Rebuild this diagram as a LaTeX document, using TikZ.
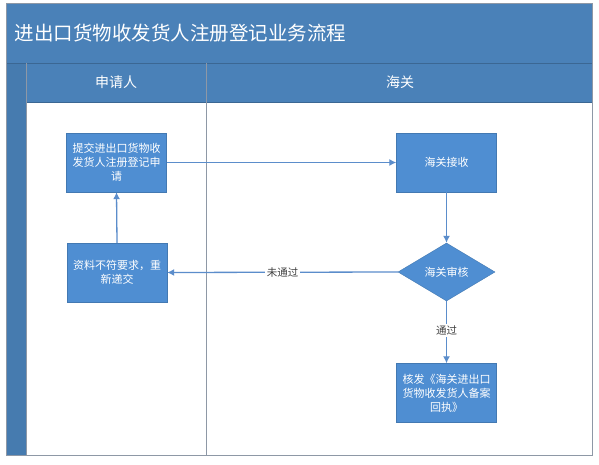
\documentclass[tikz,border=0pt]{standalone}
\usepackage{fontspec}
\setmainfont{Noto Sans CJK SC}
\usetikzlibrary{arrows.meta,shapes.geometric}
\definecolor{band}{HTML}{4A81B8}
\definecolor{boxc}{HTML}{4F8ED2}
\definecolor{linec}{HTML}{5B8DCB}
\definecolor{framec}{HTML}{8E98A6}
\tikzset{
  stepbox/.style={draw=boxc!85!black, line width=0.4pt, fill=boxc, text=white, minimum width=100pt, minimum height=59pt, inner sep=3pt, align=center, font=\fontsize{11}{14}\selectfont},
  decbox/.style={diamond, draw=boxc!85!black, line width=0.4pt, fill=boxc, text=white, minimum width=97pt, minimum height=58pt, inner sep=0pt, aspect=1.67, align=center, font=\fontsize{11}{13}\selectfont},
  flow/.style={draw=linec, line width=1.3pt, -{Latex[length=7pt,width=7pt]}},
  lbl/.style={fill=white, text=black!75, font=\fontsize{10.5}{12}\selectfont, inner sep=1.5pt},
  hdr/.style={text=white, font=\fontsize{14}{16}\selectfont}
}
\begin{document}
\begin{tikzpicture}[x=1pt,y=-1pt]
\useasboundingbox (0,0) rectangle (599,465);
% frame
\fill[white] (6,4) rectangle (592,455);
\fill[band] (6,4) rectangle (592,63);
\fill[band] (6,63) rectangle (592,102);
\fill[band!95!black] (6,63) rectangle (26,455);
\draw[band!80!black, line width=0.6pt] (6,63) -- (592,63);
\draw[band!80!black, line width=0.6pt] (26,102) -- (592,102);
\draw[framec, line width=0.8pt] (26,63) -- (26,455);
\draw[framec, line width=0.8pt] (206,63) -- (206,455);
\draw[framec, line width=1pt] (6,4) rectangle (592,455);
% title and headers
\node[text=white, anchor=west, font=\fontsize{19.5}{22}\selectfont] (title) at (11,33) {进出口货物收发货人注册登记业务流程};
\node[hdr] (h1) at (116,82) {申请人};
\node[hdr] (h2) at (400,82) {海关};
% nodes
\node[stepbox] (submit) at (116.5,162.5) {提交进出口货物收\\发货人注册登记申\\请};
\node[stepbox] (resub) at (117,272.5) {资料不符要求，重\\新递交};
\node[stepbox] (recv) at (446.5,162.5) {海关接收};
\node[decbox] (audit) at (446.5,272) {海关审核};
\node[stepbox] (issue) at (446.5,393) {核发《海关进出口\\货物收发货人备案\\回执》};
% connectors
\draw[flow] (submit.east) -- (recv.west);
\draw[flow] (recv.south) -- (audit.north);
\draw[flow] (audit.west) -- node[lbl, pos=0.5] {未通过} (resub.east);
\draw[flow] (audit.south) -- node[lbl, pos=0.47] {通过} (issue.north);
\draw[flow] (resub.north) -- (submit.south);
\end{tikzpicture}
\end{document}
